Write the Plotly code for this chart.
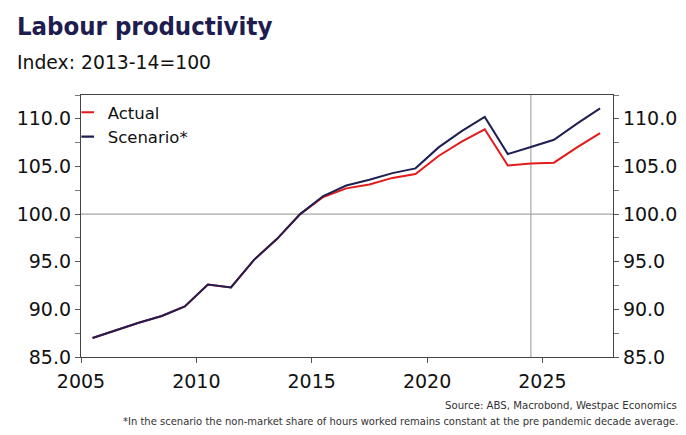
import plotly.graph_objects as go

# ---- data ----
years = [2005.5, 2006.5, 2007.5, 2008.5, 2009.5, 2010.5, 2011.5, 2012.5, 2013.5, 2014.5,
         2015.5, 2016.5, 2017.5, 2018.5, 2019.5, 2020.5, 2021.5, 2022.5, 2023.5, 2024.5,
         2025.5, 2026.5, 2027.5]
actual = [87.0, 87.8, 88.6, 89.3, 90.3, 92.6, 92.3, 95.2, 97.4, 100.0,
          101.8, 102.7, 103.1, 103.8, 104.2, 106.1, 107.6, 108.9, 105.1, 105.3,
          105.4, 107.0, 108.5]
scenario = [87.0, 87.8, 88.6, 89.3, 90.3, 92.6, 92.3, 95.2, 97.4, 100.0,
            101.9, 103.0, 103.6, 104.3, 104.8, 107.0, 108.7, 110.2, 106.3, 107.05,
            107.8, 109.5, 111.1]
series_names = ["Actual", "Scenario*"]
x_ticks = [2005, 2010, 2015, 2020, 2025]
y_ticks = [85, 90, 95, 100, 105, 110]
y_tick_labels = ["85.0", "90.0", "95.0", "100.0", "105.0", "110.0"]
ref_y = 100
ref_x = 2024.5

RED = "#e31b1b"
NAVY = "#1f1f52"
MAIN = "DejaVu Sans"
TICKFONT = dict(family=MAIN, size=19, color="#111111")
COND = "DejaVu Sans Condensed, DejaVu Sans"

# page body has an 8px margin; figure is sized to fit the 686x435 window
W, H = 678, 427
L, R, T, B = 73, 73, 87, 78
PW, PH = W - L - R, H - T - B


def px(xp):
    return (xp - L) / PW


def py(yp):
    return (H - B - yp) / PH


fig = go.Figure()
for vals, name, col in [(actual, series_names[0], RED), (scenario, series_names[1], NAVY)]:
    fig.add_trace(go.Scatter(x=years, y=vals, mode="lines", name=name,
                             line=dict(color=col, width=2), showlegend=False))
    fig.add_trace(go.Scatter(x=[None], y=[None], mode="markers", name=name,
                             marker=dict(symbol="line-ew", size=9,
                                         line=dict(color=col, width=2.2)),
                             showlegend=True))

fig.add_trace(go.Scatter(x=[years[0]], y=[actual[0]], yaxis="y2", mode="markers",
                         marker=dict(opacity=0), showlegend=False, hoverinfo="skip"))

fig.add_hline(y=ref_y, line=dict(color="#a6a6a6", width=1.2), layer="below")
fig.add_vline(x=ref_x, line=dict(color="#a6a6a6", width=1.2), layer="below")

yax = dict(range=[85, 112.5], tickvals=y_ticks, ticktext=y_tick_labels,
           ticks="outside", ticklen=5, tickcolor="#555", tickwidth=1,
           showline=True, linecolor="#444", linewidth=1.2, showgrid=False,
           zeroline=False, tickfont=TICKFONT,
           minor=dict(dtick=2.5, tick0=85, ticks="outside", ticklen=5,
                      tickcolor="#777", showgrid=False))

fig.update_layout(
    width=W, height=H,
    margin=dict(l=L, r=R, t=T, b=B, autoexpand=False),
    paper_bgcolor="white", plot_bgcolor="white",
    xaxis=dict(range=[2005, 2028.06], tickvals=x_ticks, ticks="outside", ticklen=5,
               tickcolor="#555", showline=True, mirror=True, linecolor="#444",
               linewidth=1.2, showgrid=False, zeroline=False, tickfont=TICKFONT,
               ticklabelstandoff=2),
    yaxis=yax,
    yaxis2=dict(yax, overlaying="y", side="right"),
    legend=dict(x=-0.025, y=1.0, xanchor="left", yanchor="top",
                bgcolor="rgba(0,0,0,0)", itemwidth=30,
                font=dict(family=MAIN, size=16.5, color="#111111"),
                tracegroupgap=6),
    showlegend=True,
)

fig.add_annotation(text="Labour productivity", xref="paper", yref="paper",
                   x=px(7), y=py(18), xanchor="left", yanchor="middle",
                   showarrow=False,
                   font=dict(family=COND, size=25.5, color="#1f1d4f", weight="bold"))
fig.add_annotation(text="Index: 2013-14=100", xref="paper", yref="paper",
                   x=px(6.5), y=py(54), xanchor="left", yanchor="middle",
                   showarrow=False,
                   font=dict(family=MAIN, size=18.8, color="#111111"))
fig.add_annotation(text="Source: ABS, Macrobond, Westpac Economics", xref="paper", yref="paper",
                   x=px(671), y=py(397), xanchor="right", yanchor="middle",
                   showarrow=False,
                   font=dict(family=COND, size=11.3, color="#333333"))
fig.add_annotation(text="*In the scenario the non-market share of hours worked remains constant at the pre pandemic decade average.",
                   xref="paper", yref="paper",
                   x=px(672), y=py(413), xanchor="right", yanchor="middle",
                   showarrow=False,
                   font=dict(family=COND, size=11.1, color="#333333"))

fig.write_html("out.html")
